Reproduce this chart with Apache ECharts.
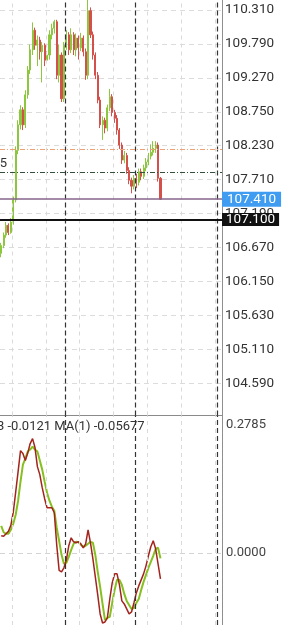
<!DOCTYPE html>
<html><head><meta charset="utf-8">
<script src="https://cdn.jsdelivr.net/npm/echarts@6/dist/echarts.min.js"></script>
<style>html,body{margin:0;padding:0;background:#fff;overflow:hidden}#c{width:290px;height:625px}</style>
</head><body><div id="c"></div>
<script>
// ---- data ----
const candleOpen = [106.58,106.70,106.86,107.01,106.90,107.06,107.40,108.16,108.55,108.78,108.55,109.01,109.39,109.70,110.00,109.77,109.85,109.67,109.77,109.54,109.62,109.93,110.03,110.13,109.31,109.62,108.95,109.77,109.93,109.70,109.93,109.70,109.88,109.73,109.88,109.67,109.31,110.30,109.93,109.62,109.31,108.93,108.55,108.62,108.50,108.81,108.98,108.74,108.65,108.47,108.24,108.01,108.08,107.85,107.70,107.61,107.73,107.67,107.83,107.76,107.89,107.98,108.07,108.13,108.19,108.24,107.73];
const candleClose = [106.70,106.86,107.01,106.90,107.06,107.40,108.16,108.55,108.78,108.55,109.01,109.39,109.70,110.00,109.77,109.85,109.67,109.77,109.54,109.62,109.93,110.03,110.13,109.31,109.62,108.95,109.77,109.93,109.70,109.93,109.70,109.88,109.73,109.88,109.67,109.31,110.30,109.93,109.62,109.31,108.93,108.55,108.62,108.50,108.81,108.98,108.74,108.65,108.47,108.24,108.01,108.08,107.85,107.70,107.61,107.73,107.67,107.83,107.76,107.89,107.98,108.07,108.13,108.19,108.24,107.73,107.41];
const candleLow = [106.52,106.66,106.82,106.86,106.88,107.02,107.36,108.10,108.48,108.47,108.50,108.95,109.33,109.62,109.70,109.45,109.55,109.20,109.45,109.50,109.55,109.86,109.95,109.25,109.20,108.90,108.90,109.70,109.62,109.65,109.62,109.60,109.55,109.68,109.60,109.24,109.25,109.88,109.55,109.25,108.88,108.50,108.32,108.42,108.45,108.76,108.68,108.58,108.40,108.18,107.95,107.96,107.80,107.64,107.50,107.56,107.58,107.62,107.70,107.72,107.84,107.93,108.02,108.08,108.12,107.68,107.40];
const candleHigh = [106.74,106.90,107.06,107.04,107.12,107.45,108.22,108.62,108.85,108.82,109.08,109.45,109.78,110.12,110.04,109.92,109.90,109.82,109.80,109.68,110.00,110.10,110.16,110.16,109.78,109.66,109.82,110.00,109.97,110.03,109.97,109.95,109.92,109.96,109.92,109.72,110.55,110.35,109.98,109.66,109.36,108.98,108.68,108.66,108.86,109.10,109.02,108.78,108.70,108.50,108.28,108.15,108.12,107.90,107.74,107.78,107.80,107.88,107.88,107.94,108.04,108.12,108.25,108.30,108.30,108.28,107.75];
const oscMain = [0.0370,0.0359,0.0413,0.0468,0.0598,0.0881,0.1316,0.1762,0.2219,0.2154,0.2002,0.2165,0.2372,0.2480,0.2285,0.1871,0.1697,0.1414,0.1175,0.0979,0.0979,0.0979,0.0870,0.0174,-0.0381,-0.0413,-0.0326,-0.0152,0.0152,0.0326,0.0239,0.0218,0.0239,0.0196,0.0109,0.0196,0.0500,0.0218,-0.0131,-0.0522,-0.0914,-0.1327,-0.1523,-0.1501,-0.1414,-0.1001,-0.0653,-0.0457,-0.0457,-0.0696,-0.1044,-0.1110,-0.1218,-0.1327,-0.1284,-0.1088,-0.0870,-0.0718,-0.0587,-0.0457,-0.0283,-0.0065,0.0131,0.0261,0.0087,-0.0239,-0.0568];
const oscSignal = [0.0587,0.0446,0.0413,0.0413,0.0500,0.0631,0.0827,0.1131,0.1545,0.1915,0.2045,0.2198,0.2241,0.2306,0.2241,0.2198,0.2002,0.1806,0.1545,0.1305,0.1131,0.1001,0.0914,0.0544,0.0261,-0.0044,-0.0239,-0.0218,-0.0087,0.0065,0.0196,0.0239,0.0228,0.0174,0.0131,0.0152,0.0196,0.0239,0.0218,-0.0044,-0.0413,-0.0740,-0.1110,-0.1458,-0.1414,-0.1392,-0.1088,-0.0805,-0.0587,-0.0587,-0.0696,-0.0892,-0.1044,-0.1131,-0.1218,-0.1197,-0.1088,-0.1001,-0.0805,-0.0631,-0.0479,-0.0326,-0.0196,-0.0065,0.0087,0.0109,-0.0121];
const priceTicks = ['104.590','105.110','105.630','106.150','106.670','107.190','107.710','108.230','108.750','109.270','109.790','110.310'];
const oscTicks = ['0.0000','0.2785'];
const oscGridTicks = ['0.0000'];
const bidPrice = 107.41;
const holdPrice = 107.10;
const orangeLevel = 108.17;
const darkLevel = 107.835;
const gridLinesX = [4.5,18.5,32.5,46.5,60.5,74.5,88.5];
const periodSepX = [26.5,55.5,89.5];
const indicatorText = '3 -0.0121 MA(1) -0.05677';

// ---- chart ----
const chart = echarts.init(document.getElementById('c'), null, {renderer:'canvas'});
const FONT = 'Roboto';
const vLines = () => [
  ...gridLinesX.map(v => ({xAxis:v, lineStyle:{color:'#dadada', type:[4,4], width:1}})),
  ...periodSepX.map(v => ({xAxis:v, lineStyle:{color:'#333', type:[5,3], width:1.2}}))
];
const option = {
  animation:false,
  backgroundColor:'#fff',
  grid:[
    {left:0, right:68, top:0, height:415.5},
    {left:0, right:68, top:415.5, bottom:0}
  ],
  xAxis:[
    {gridIndex:0, type:'value', min:-0.5, max:91.5, show:false},
    {gridIndex:1, type:'value', min:-0.5, max:91.5, position:'top',
     axisLine:{show:true, onZero:false, lineStyle:{color:'#8a8a8a', width:1}},
     axisTick:{show:false}, axisLabel:{show:false}, splitLine:{show:false}}
  ],
  yAxis:[
    {gridIndex:0, type:'value', position:'right', min:104.0944, max:110.4635, scale:true,
     axisLine:{show:true, onZero:false, lineStyle:{color:'#8f8f8f', width:1}},
     axisTick:{show:false, customValues: priceTicks.map(Number)},
     axisLabel:{customValues: priceTicks.map(Number), formatter:v=>Number(v).toFixed(3),
       color:'#333', fontSize:13.5, fontFamily:FONT, margin:3, showMinLabel:true, showMaxLabel:true},
     splitLine:{show:true, lineStyle:{color:'#dcdcdc', type:[5,4], width:1}}},
    {gridIndex:1, type:'value', position:'right', min:-0.1567, max:0.2981,
     axisLine:{show:true, onZero:false, lineStyle:{color:'#8f8f8f', width:1}},
     axisTick:{show:false, customValues: oscGridTicks.map(Number)},
     axisLabel:{customValues: oscTicks.map(Number), formatter:v=>Number(v).toFixed(4),
       color:'#444', fontSize:13, fontFamily:FONT, margin:4, showMinLabel:true, showMaxLabel:true},
     splitLine:{show:true, lineStyle:{color:'#d4d4d4', type:[5,4], width:1}}}
  ],
  series:[
    {type:'line', xAxisIndex:0, yAxisIndex:0, data:[], clip:false, silent:true, z:1,
     markLine:{symbol:'none', silent:true, animation:false, label:{show:false}, data: vLines()}},
    {type:'candlestick', xAxisIndex:0, yAxisIndex:0, barWidth:1.6, z:3,
     itemStyle:{color:'#8dc63f', color0:'#d4504a', borderColor:'#8dc63f', borderColor0:'#d4504a', borderWidth:1},
     data: candleOpen.map((o,i)=>[i, o, candleClose[i], candleLow[i], candleHigh[i]])},
    {type:'line', xAxisIndex:0, yAxisIndex:0, data:[], clip:false, silent:true, z:5,
     markLine:{symbol:'none', silent:true, animation:false,
       data:[
         {yAxis:orangeLevel, lineStyle:{color:'#eca276', type:[5,2,1,2], width:1}, label:{show:false}},
         {yAxis:darkLevel, lineStyle:{color:'#34503a', type:[5,2,1,2], width:1}, label:{show:false}},
         {yAxis:bidPrice, lineStyle:{color:'#86648a', type:'solid', width:1.5},
          label:{show:true, position:'end', distance:0, formatter:bidPrice.toFixed(3), color:'#fff',
                 backgroundColor:'#3f9cf0', padding:[1,5,0,5], lineHeight:14, fontSize:13.5, fontFamily:FONT}},
         {yAxis:holdPrice, lineStyle:{color:'#111', type:'solid', width:2},
          label:{show:true, position:'end', distance:0, formatter:holdPrice.toFixed(3), color:'#fff',
                 backgroundColor:'#111', padding:[0,4,0,4], lineHeight:13, fontSize:13.5, fontFamily:FONT}}
       ]}},
    {type:'line', xAxisIndex:1, yAxisIndex:1, data:[], clip:false, silent:true, z:1,
     markLine:{symbol:'none', silent:true, animation:false, label:{show:false}, data: vLines()}},
    {type:'line', xAxisIndex:1, yAxisIndex:1, symbol:'none', z:3,
     lineStyle:{color:'#86c020', width:2}, data: oscSignal.map((v,i)=>[i,v])},
    {type:'line', xAxisIndex:1, yAxisIndex:1, symbol:'none', z:4,
     lineStyle:{color:'#a3241c', width:1.5}, data: oscMain.map((v,i)=>[i,v])}
  ],
  graphic:[
    {type:'text', left:-3, top:420, z:10, style:{text:indicatorText, fill:'#333', font:'13px Roboto'}},
    {type:'text', x:7, y:157, z:10, style:{text:darkLevel.toFixed(3), fill:'#333', font:'13px Roboto', align:'right'}}
  ]
};
chart.setOption(option);
</script></body></html>
